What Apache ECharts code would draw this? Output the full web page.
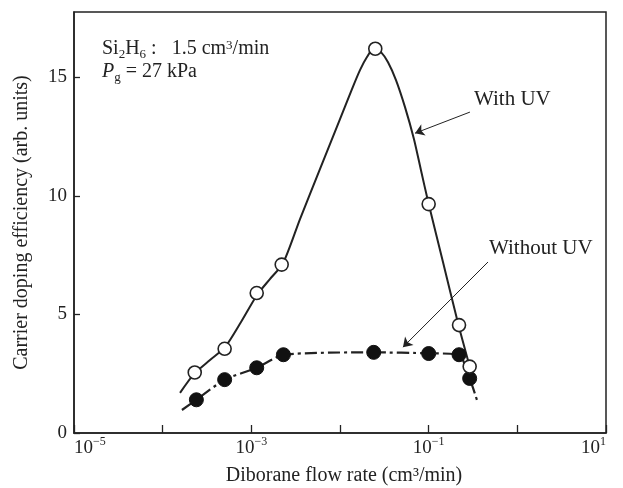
<!DOCTYPE html>
<html>
<head>
<meta charset="utf-8">
<script src="https://cdn.jsdelivr.net/npm/echarts@6/dist/echarts.min.js"></script>
<style>
html,body{margin:0;padding:0;background:#fff;}
#chart{width:623px;height:488px;}
</style>
</head>
<body>
<div id="chart"></div>
<script>
// Measured markers
const withUvFlow = [2.3e-4, 5.0e-4, 1.15e-3, 2.2e-3, 0.025, 0.1, 0.22, 0.29];
const withUvEff = [2.55, 3.55, 5.9, 7.1, 16.2, 9.65, 4.55, 2.8];
const withoutUvFlow = [2.4e-4, 5.0e-4, 1.15e-3, 2.3e-3, 0.024, 0.1, 0.22, 0.29];
const withoutUvEff = [1.4, 2.25, 2.75, 3.3, 3.4, 3.35, 3.3, 2.3];
// Hand-drawn guide curves
const withUvCurveFlow = [1.57e-4, 2.26e-4, 3.42e-4, 5.05e-4, 7.65e-4, 1.16e-3, 1.62e-3, 2.28e-3, 3.54e-3, 5.94e-3, 0.0100, 0.01365, 0.0168, 0.02015, 0.02416, 0.029, 0.0348, 0.0428, 0.0541, 0.0683, 0.0819, 0.0982, 0.145, 0.214, 0.285];
const withUvCurveEff = [1.69, 2.49, 3.08, 3.62, 4.68, 5.82, 6.49, 7.16, 9.02, 11.13, 13.23, 14.5, 15.3, 15.85, 16.22, 16.06, 15.63, 14.88, 13.74, 12.39, 11.08, 9.78, 7.21, 4.64, 2.91];
const withoutUvCurveFlow = [1.65e-4, 2.4e-4, 5.0e-4, 1.15e-3, 2.3e-3, 0.024, 0.1, 0.22, 0.29, 0.35];
const withoutUvCurveEff = [0.97, 1.4, 2.25, 2.75, 3.3, 3.4, 3.36, 3.3, 2.3, 1.4];
// Axis ticks
const xLabelExponents = [-5, -3, -1, 1];
const yTickLabels = [0, 5, 10, 15];
// Annotation arrows (data coordinates)
const withUvArrow = [[0.292, 13.53], [0.0702, 12.64]];
const withoutUvArrow = [[0.467, 7.21], [0.0513, 3.62]];

const FONT = '"Liberation Serif", "DejaVu Serif", serif';
const INK = '#222';
const zip = (a, b) => a.map((v, i) => [v, b[i]]);

const chart = echarts.init(document.getElementById('chart'));
chart.setOption({
  backgroundColor: '#fff',
  animation: false,
  grid: {left: 74, right: 17, top: 12, bottom: 55, outerBoundsMode: 'none', containLabel: false,
         show: true, borderColor: INK, borderWidth: 1.5, backgroundColor: 'transparent'},
  xAxis: {
    type: 'log', logBase: 10, min: 1e-5, max: 10, splitNumber: 6,
    name: 'Diborane flow rate (cm³/min)', nameLocation: 'middle', nameGap: 33,
    nameTextStyle: {fontFamily: FONT, fontSize: 20, color: INK, padding: [0, 0, 0, 8]},
    axisLine: {lineStyle: {color: INK, width: 1.5}},
    axisTick: {inside: true, length: 8, lineStyle: {color: INK, width: 1.3}},
    splitLine: {show: false},
    axisLabel: {
      margin: 3, color: INK, fontFamily: FONT, fontSize: 19,
      alignMinLabel: 'left', alignMaxLabel: 'right',
      formatter: function (v) {
        const e = Math.round(Math.log10(v));
        if (xLabelExponents.indexOf(e) < 0) return '';
        return '{b|10}{s|' + (e < 0 ? '−' + (-e) : e) + '}';
      },
      rich: {
        b: {fontFamily: FONT, fontSize: 19, color: INK, lineHeight: 22, verticalAlign: 'bottom'},
        s: {fontFamily: FONT, fontSize: 12, color: INK, lineHeight: 12, verticalAlign: 'top'}
      }
    }
  },
  yAxis: {
    type: 'value', min: 0, max: 17.75, interval: 5,
    name: 'Carrier doping efficiency (arb. units)', nameLocation: 'middle', nameGap: 42,
    nameTextStyle: {fontFamily: FONT, fontSize: 20, color: INK},
    axisLine: {show: true, lineStyle: {color: INK, width: 1.5}},
    axisTick: {inside: true, length: 6, lineStyle: {color: INK, width: 1.3}},
    splitLine: {show: false},
    axisLabel: {
      margin: 7, color: INK, fontFamily: FONT, fontSize: 19, showMaxLabel: false,
      formatter: function (v) { return yTickLabels.indexOf(v) >= 0 ? String(v) : ''; }
    }
  },
  series: [
    {
      type: 'line', data: zip(withUvCurveFlow, withUvCurveEff), smooth: 0.25,
      showSymbol: false, lineStyle: {color: INK, width: 2}, z: 2,
      markLine: {
        silent: true, symbol: ['none', 'arrow'], symbolSize: 9,
        lineStyle: {color: INK, width: 1, type: 'solid'}, label: {show: false},
        data: [[{coord: withUvArrow[0]}, {coord: withUvArrow[1]}],
               [{coord: withoutUvArrow[0]}, {coord: withoutUvArrow[1]}]]
      }
    },
    {
      type: 'line', data: zip(withoutUvCurveFlow, withoutUvCurveEff), smooth: 0.2,
      showSymbol: false, lineStyle: {color: INK, width: 2.2, type: [12, 4, 3, 4]}, z: 2
    },
    {
      type: 'scatter', data: zip(withUvFlow, withUvEff), symbol: 'circle', symbolSize: 13,
      itemStyle: {color: '#fff', borderColor: INK, borderWidth: 1.6, opacity: 1}, z: 4
    },
    {
      type: 'scatter', data: zip(withoutUvFlow, withoutUvEff), symbol: 'circle', symbolSize: 14,
      itemStyle: {color: '#111', borderColor: '#111', borderWidth: 1, opacity: 1}, z: 3
    }
  ],
  graphic: [
    {
      type: 'text', left: 102, top: 39,
      style: {
        text: '{n|Si}{d|2}{n|H}{d|6}{n| :   1.5 cm}{u|3}{n|/min}',
        rich: {
          n: {fontFamily: FONT, fontSize: 20, fill: INK, lineHeight: 22, verticalAlign: 'top'},
          d: {fontFamily: FONT, fontSize: 13, fill: INK, lineHeight: 16, verticalAlign: 'bottom'},
          u: {fontFamily: FONT, fontSize: 13, fill: INK, lineHeight: 12, verticalAlign: 'top'}
        }
      }
    },
    {
      type: 'text', left: 102, top: 62,
      style: {
        text: '{i|P}{d|g}{n| = 27 kPa}',
        rich: {
          i: {fontFamily: FONT, fontSize: 20, fontStyle: 'italic', fill: INK, lineHeight: 22, verticalAlign: 'top'},
          n: {fontFamily: FONT, fontSize: 20, fill: INK, lineHeight: 22, verticalAlign: 'top'},
          d: {fontFamily: FONT, fontSize: 13, fill: INK, lineHeight: 16, verticalAlign: 'bottom'}
        }
      }
    },
    {type: 'text', left: 474, top: 89, style: {text: 'With UV', fontFamily: FONT, fontSize: 21, fill: INK}},
    {type: 'text', left: 489, top: 238, style: {text: 'Without UV', fontFamily: FONT, fontSize: 21, fill: INK}}
  ]
});
</script>
</body>
</html>
